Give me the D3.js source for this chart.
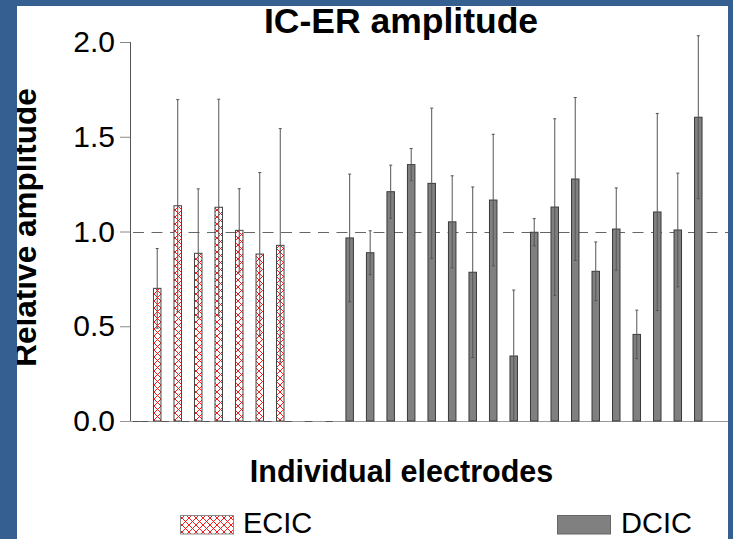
<!DOCTYPE html>
<html><head><meta charset="utf-8">
<script src="https://cdn.jsdelivr.net/npm/d3@7"></script>
<style>html,body{margin:0;padding:0;background:#355e91;}svg{display:block;}</style>
</head><body>
<svg id="chart" width="733" height="539"></svg>
<script>
const electrodes = [1,2,3,4,5,6,7,8,9,10,11,12,13,14,15,16,17,18,19,20,21,22,23,24,25,26,27,28];
const seriesNames = ["ECIC","DCIC"];
const ecicMean = [0,0.70,1.136,0.885,1.128,1.006,0.881,0.927,null,null,null,null,null,null,null,null,null,null,null,null,null,null,null,null,null,null,null,null];
const ecicErr  = [null,0.21,0.56,0.34,0.57,0.22,0.43,0.616,null,null,null,null,null,null,null,null,null,null,null,null,null,null,null,null,null,null,null,null];
const dcicMean = [0,0,0,0,0,0,0,0,0,0,0.966,0.888,1.21,1.353,1.254,1.051,0.785,1.166,0.343,0.996,1.129,1.277,0.79,1.013,0.457,1.103,1.008,1.603];
const dcicErr  = [null,null,null,null,null,null,null,null,null,null,0.337,0.116,0.14,0.085,0.397,0.243,0.45,0.347,0.348,0.072,0.466,0.43,0.155,0.217,0.128,0.52,0.3,0.43];
const yTicks = [0,0.5,1.0,1.5,2.0];
const refValue = 1.0;

const svg = d3.select("#chart");
svg.append("rect").attr("x",0).attr("y",0).attr("width",733).attr("height",539).attr("fill","#ffffff");

const defs = svg.append("defs");
const pat = defs.append("pattern").attr("id","hatch").attr("patternUnits","userSpaceOnUse")
  .attr("width",7).attr("height",7);
pat.append("rect").attr("width",7).attr("height",7).attr("fill","#fff");
pat.append("path").attr("d","M0,0L7,7M7,0L0,7").attr("stroke","#ee1c1c").attr("stroke-width",1).attr("fill","none");

const x = d3.scaleBand().domain(electrodes).range([130.4,704.6]).paddingInner(0.25).paddingOuter(0.125);
const xs = d3.scaleBand().domain(seriesNames).range([0,x.bandwidth()]).paddingInner(0.05);
const y = d3.scaleLinear().domain([0,2]).range([421,42]);

const ff = "Liberation Sans, Arial, sans-serif";
const yAxis = d3.axisLeft(y).tickValues(yTicks).tickFormat(d3.format(".1f")).tickSize(10).tickPadding(5);
const ga = svg.append("g").attr("transform","translate(130,0)").call(yAxis);
ga.select(".domain").attr("stroke","#555").attr("stroke-width",1).attr("d", `M0.5,${y(2)}V${y(0)}`);
ga.selectAll(".tick line").attr("stroke","#888");
ga.selectAll(".tick text").attr("font-family",ff).attr("font-size",30).attr("fill","#000");

svg.append("line").attr("x1",120).attr("x2",728).attr("y1",y(0)+0.5).attr("y2",y(0)+0.5).attr("stroke","#999").attr("stroke-width",1);

svg.append("line").attr("x1",133).attr("x2",728).attr("y1",Math.round(y(refValue))+0.5).attr("y2",Math.round(y(refValue))+0.5)
  .attr("stroke","#666").attr("stroke-width",1).attr("stroke-dasharray","11,7.5");

const series = [
  {name:"ECIC", mean:ecicMean, err:ecicErr, fill:"url(#hatch)", stroke:"#444"},
  {name:"DCIC", mean:dcicMean, err:dcicErr, fill:"#808080", stroke:"#3a3a3a"}
];

series.forEach(s=>{
  const data = electrodes.map((e,i)=>({e, v:s.mean[i], err:s.err[i]})).filter(d=>d.v!==null);
  const g = svg.append("g");
  g.selectAll("rect").data(data.filter(d=>d.v>0)).join("rect")
    .attr("x",d=>x(d.e)+xs(s.name)).attr("width",xs.bandwidth())
    .attr("y",d=>y(d.v)).attr("height",d=>y(0)-y(d.v))
    .attr("fill",s.fill).attr("stroke",s.stroke).attr("stroke-width",1);
  g.selectAll("line.zero").data(data.filter(d=>d.v===0)).join("line").attr("class","zero")
    .attr("x1",d=>x(d.e)+xs(s.name)).attr("x2",d=>x(d.e)+xs(s.name)+xs.bandwidth())
    .attr("y1",y(0)+0.5).attr("y2",y(0)+0.5).attr("stroke","#555").attr("stroke-width",1);
  const eb = data.filter(d=>d.err!==null && d.err!==undefined);
  const cx = d=>x(d.e)+xs(s.name)+xs.bandwidth()/2;
  g.selectAll("line.err").data(eb).join("line").attr("class","err")
    .attr("x1",cx).attr("x2",cx)
    .attr("y1",d=>y(d.v+d.err)).attr("y2",d=>y(Math.max(0,d.v-d.err)))
    .attr("stroke","#555").attr("stroke-width",1);
  g.selectAll("line.capt").data(eb).join("line").attr("class","capt")
    .attr("x1",d=>cx(d)-1.5).attr("x2",d=>cx(d)+1.5)
    .attr("y1",d=>y(d.v+d.err)).attr("y2",d=>y(d.v+d.err))
    .attr("stroke","#555").attr("stroke-width",1);
  g.selectAll("line.capb").data(eb.filter(d=>d.v-d.err>0)).join("line").attr("class","capb")
    .attr("x1",d=>cx(d)-1.5).attr("x2",d=>cx(d)+1.5)
    .attr("y1",d=>y(d.v-d.err)).attr("y2",d=>y(d.v-d.err))
    .attr("stroke","#555").attr("stroke-width",1);
});

svg.append("text").attr("x",401).attr("y",33).attr("text-anchor","middle").attr("font-family",ff)
  .attr("font-weight","bold").attr("font-size",35.5).text("IC-ER amplitude");
svg.append("text").attr("x",401.5).attr("y",481.5).attr("text-anchor","middle").attr("font-family",ff)
  .attr("font-weight","bold").attr("font-size",30.5).text("Individual electrodes");
svg.append("text").attr("transform","translate(36,227.5) rotate(-90)").attr("text-anchor","middle").attr("font-family",ff)
  .attr("font-weight","bold").attr("font-size",31.5).text("Relative amplitude");

const legend = [
  {name:seriesNames[0], fill:"url(#hatch)", stroke:"#888", sx:180, tx:243},
  {name:seriesNames[1], fill:"#808080", stroke:"#666", sx:557, tx:621}
];
legend.forEach(l=>{
  svg.append("rect").attr("x",l.sx+0.5).attr("y",515.5).attr("width",53).attr("height",18.5)
    .attr("fill",l.fill).attr("stroke",l.stroke).attr("stroke-width",1);
  svg.append("text").attr("x",l.tx).attr("y",532.5).attr("font-family",ff).attr("font-size",29).text(l.name);
});

svg.append("rect").attr("x",0).attr("y",0).attr("width",17).attr("height",539).attr("fill","#355e91");
svg.append("rect").attr("x",0).attr("y",0).attr("width",733).attr("height",6).attr("fill","#355e91");
svg.append("rect").attr("x",728).attr("y",0).attr("width",5).attr("height",539).attr("fill","#355e91");
</script>
</body></html>
